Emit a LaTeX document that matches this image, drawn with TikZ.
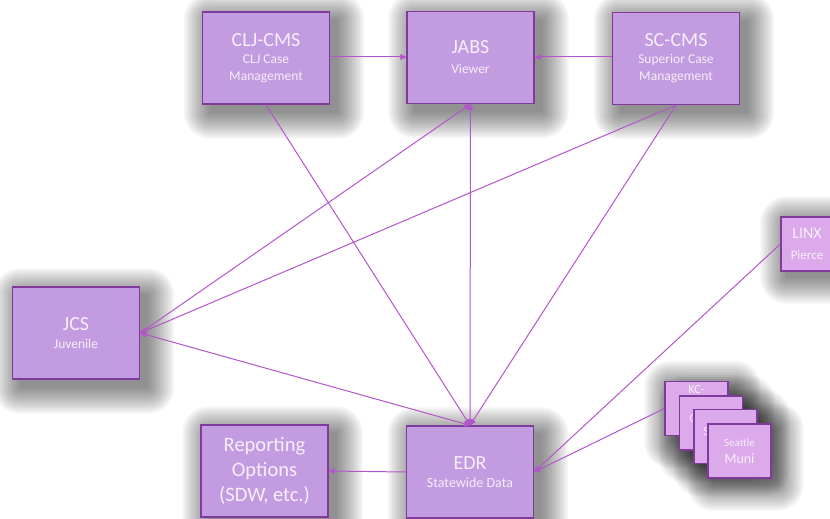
\documentclass[tikz,border=0pt]{standalone}
\usepackage{fontspec}
\setmainfont{Carlito}
\usetikzlibrary{arrows.meta,calc}
\definecolor{boxfill}{HTML}{C39BE0}
\definecolor{boxline}{HTML}{7F3A9C}
\definecolor{lightfill}{HTML}{DCAAEB}
\definecolor{connc}{HTML}{B455CC}
\definecolor{txt}{HTML}{F6EEFA}
\pgfdeclarelayer{shadowlayer}
\pgfsetlayers{shadowlayer,main}
\tikzset{
  sysbox/.style={draw=boxline, line width=1.3pt, fill=boxfill, align=center, text=txt,
    inner sep=0pt, minimum width=127pt, minimum height=92pt,
    font=\fontsize{13.5}{17}\selectfont},
  smallbox/.style={sysbox, fill=lightfill, minimum width=63pt, minimum height=54pt},
  conn/.style={draw=connc, line width=1pt, -{Triangle[length=6pt,width=6pt]}},
  both/.style={draw=connc, line width=1pt, {Triangle[length=6pt,width=6pt]}-{Triangle[length=6pt,width=6pt]}},
  lbl/.style={text=txt, inner sep=0pt, font=\fontsize{12.5}{14}\selectfont}
}
\newcommand{\ttl}[1]{{\fontsize{20}{17}\selectfont #1}}
\newcommand{\boxshadow}[2]{%
  \begin{pgfonlayer}{shadowlayer}
  \foreach \r in {0,2,...,26}{%
    \fill[black,opacity=0.038,rounded corners=\r pt]
      ($(#1.north west)+(#2-\r,#2-\r)$) rectangle ($(#1.south east)+(#2+\r,#2+\r)$);}
  \end{pgfonlayer}}
\begin{document}
\begin{tikzpicture}[x=1pt,y=-1pt]
\useasboundingbox (0,0) rectangle (830,519);
\clip (0,0) rectangle (830,519);

\node[sysbox] (clj) at (266,58) {\ttl{CLJ-CMS}\\CLJ Case\\Management};
\node[sysbox] (jabs) at (470.5,57.5) {\ttl{JABS}\\[3pt]Viewer};
\node[sysbox] (sc) at (676,58.5) {\ttl{SC-CMS}\\Superior Case\\Management};
\node[sysbox] (jcs) at (76,333) {\ttl{JCS}\\[1pt]Juvenile};
\node[sysbox, font=\fontsize{14}{18}\selectfont] (edr) at (470,472) {\ttl{EDR}\\Statewide Data};
\node[sysbox, font=\fontsize{20.5}{25}\selectfont] (rep) at (264.5,471) {Reporting\\Options\\(SDW, etc.)};

\node[smallbox, minimum width=52pt, font=\fontsize{13}{21}\selectfont] (linx) at (807,244) {{\fontsize{16}{18}\selectfont LINX}\\Pierce};

\node[smallbox] (kc1) at (696.5,408.5) {};
\node[lbl, anchor=base] (kct) at (696.5,393) {KC-};
\node[smallbox] (kc2) at (711,423) {};
\node[lbl, anchor=base] (kc2t) at (693,422) {C};
\node[smallbox] (kc3) at (725.5,436.5) {};
\node[lbl, anchor=base] (kc3t) at (706.5,435) {S};
\node[smallbox, font=\fontsize{11}{17}\selectfont] (kc4) at (739.5,451) {Seattle\\{\fontsize{14}{17}\selectfont Muni}};

\foreach \n in {clj,jabs,sc,jcs,edr,rep}{\boxshadow{\n}{8}}
\foreach \n in {linx,kc1,kc2,kc3,kc4}{\boxshadow{\n}{6}}

\draw[conn] (clj.east |- 0,57) -- (jabs.west |- 0,57);
\draw[conn] (sc.west |- 0,57) -- (jabs.east |- 0,57);
\draw[conn] (clj.south) -- (edr.north);
\draw[conn] (sc.south) -- (edr.north);
\draw[both] (edr.north) -- (jabs.south);
\draw[conn] (jcs.east) -- (jabs.south);
\draw[conn] (sc.south) -- (jcs.east);
\draw[both] (edr.north) -- (jcs.east);
\draw[conn] (linx.west) -- (edr.east);
\draw[conn] (kc1.west) -- (edr.east);
\draw[conn] (edr.west) -- (rep.east);
\end{tikzpicture}
\end{document}
